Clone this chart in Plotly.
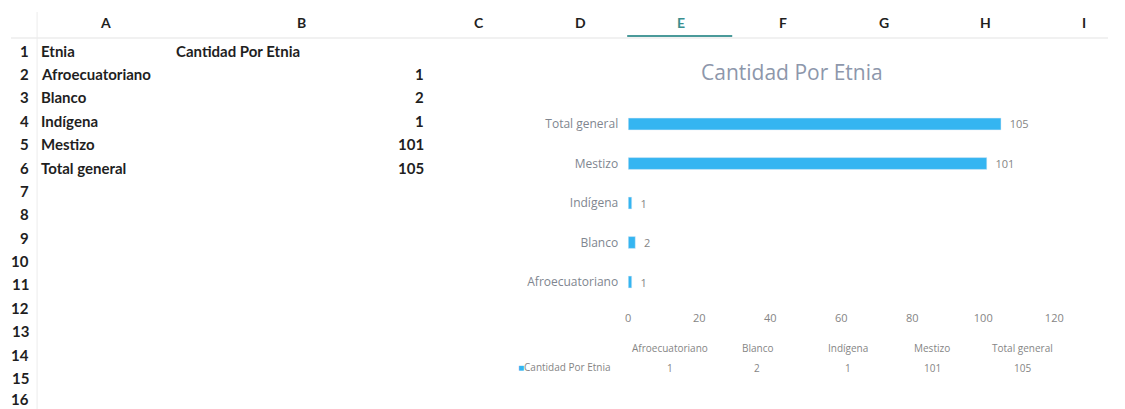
import plotly.graph_objects as go

# page body has an 8px margin, so the figure sits at (8, 8) in the window
OFF = 8
W, H = 1109, 401
# small horizontal correction measured from earlier renders
SX, BX = 0.989, 3.0

# spreadsheet source table
etnias = ["Afroecuatoriano", "Blanco", "Indígena", "Mestizo", "Total general"]
cantidad = [1, 2, 1, 101, 105]
serie = "Cantidad Por Etnia"
col_letters = ["A", "B", "C", "D", "E", "F", "G", "H", "I"]
x_ticks = [0, 20, 40, 60, 80, 100, 120]

BAR_COLOR = "#35B5F1"
GRAY = "#858585"
AXIS_GRAY = "#80868f"
INK = "#1f1f1f"
TEAL = "#3a8f8f"
CELL_FONT = "Lato"
CHART_FONT = "Open Sans"


def px(x, y):
    """window pixel -> paper fraction"""
    xs = (x - BX) / SX
    return (xs - OFF) / W, 1 - (y - OFF) / H


def note(xp, yp, text, size, color, family, anchor="center"):
    x, y = px(xp, yp)
    return dict(x=x, y=y, xref="paper", yref="paper", text=text, showarrow=False,
                xanchor=anchor, yanchor="middle", font=dict(family=family, size=size, color=color))


fig = go.Figure()
fig.add_trace(
    go.Bar(
        y=etnias,
        x=cantidad,
        orientation="h",
        marker=dict(color=BAR_COLOR),
        width=0.3,
        texttemplate="\u00a0\u00a0%{x}",
        textposition="outside",
        constraintext="none",
        textfont=dict(family=CHART_FONT, size=11, color=GRAY),
        cliponaxis=False,
        showlegend=False,
        name=serie,
        hoverinfo="skip",
    )
)

ann = []

# column headers of the sheet
col_x = [105, 301, 479, 580, 681, 783, 884, 985, 1084]
for letter, cx in zip(col_letters, col_x):
    ann.append(note(cx, 22, f"<b>{letter}</b>", 14, TEAL if letter == "E" else INK, CELL_FONT))

# row numbers
row_y = [51, 74, 97, 121, 144, 168, 191, 214, 238, 261, 284, 308, 331, 355, 378, 399]
for i, ry in enumerate(row_y):
    ann.append(note(31, ry, f"<b>{i + 1}</b>", 15, INK, CELL_FONT, "right"))

# cell contents
ann.append(note(39, row_y[0], "<b>Etnia</b>", 15, INK, CELL_FONT, "left"))
ann.append(note(174, row_y[0], f"<b>{serie}</b>", 15, INK, CELL_FONT, "left"))
for i, (name, val) in enumerate(zip(etnias, cantidad)):
    ann.append(note(39, row_y[i + 1], f"<b>{name}</b>", 15, INK, CELL_FONT, "left"))
    ann.append(note(426, row_y[i + 1], f"<b>{val}</b>", 15, INK, CELL_FONT, "right"))

# chart data table underneath the axis
table_x = [670, 757, 848, 932, 1022]
for name, val, cx in zip(etnias, cantidad, table_x):
    ann.append(note(cx, 348, name, 10, GRAY, CHART_FONT))
    ann.append(note(cx, 368, str(val), 10, GRAY, CHART_FONT))
ann.append(note(516, 367, f"<span style='color:{BAR_COLOR}'>■</span>{serie}", 10, GRAY, CHART_FONT, "left"))

# chart title
ann.append(note(792, 72, serie, 21, "#8D97AB", CHART_FONT))

hx0, hy = px(0, 38)
vx, vy = px(37, 12)
ex0, ey = px(627, 36)
ex1, _ = px(732, 36)
shapes = [
    # header separator and row-number divider
    dict(type="line", xref="paper", yref="paper", x0=0, x1=1, y0=hy, y1=hy,
         line=dict(color="#e3e3e3", width=1)),
    dict(type="line", xref="paper", yref="paper", x0=vx, x1=vx, y0=0, y1=vy,
         line=dict(color="#ececec", width=1)),
    # selected column marker under E
    dict(type="line", xref="paper", yref="paper", x0=ex0, x1=ex1, y0=ey, y1=ey,
         line=dict(color="#4a9a9a", width=2)),
]

dx0, _ = px(628, 0)
dx1, _ = px(1054, 0)
_, dy0 = px(0, 301.75)
_, dy1 = px(0, 104.25)

fig.update_layout(
    width=W,
    height=H,
    margin=dict(l=0, r=0, t=0, b=0),
    paper_bgcolor="white",
    plot_bgcolor="white",
    annotations=ann,
    shapes=shapes,
    xaxis=dict(
        domain=[dx0, dx1],
        range=[0, 120],
        tickvals=x_ticks,
        showgrid=False,
        zeroline=False,
        showline=False,
        ticks="",
        ticklabelstandoff=8,
        tickfont=dict(family=CHART_FONT, size=11, color=GRAY),
    ),
    yaxis=dict(
        domain=[dy0, dy1],
        categoryorder="array",
        categoryarray=etnias,
        showgrid=False,
        zeroline=False,
        showline=False,
        ticks="",
        ticklabelstandoff=9,
        tickfont=dict(family=CHART_FONT, size=12, color=AXIS_GRAY),
    ),
)

fig.write_html("out.html")
